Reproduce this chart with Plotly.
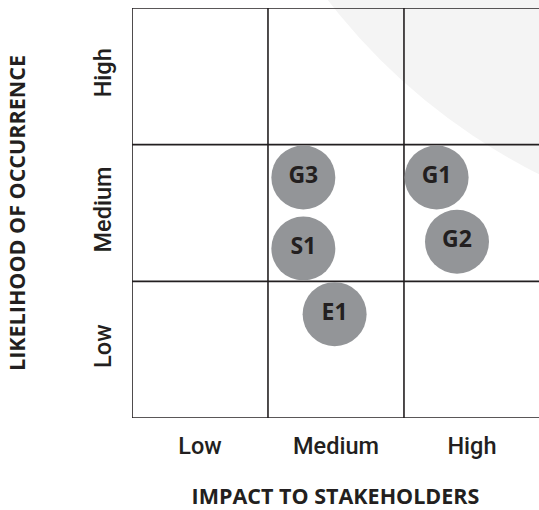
import plotly.graph_objects as go

# Data
risk_labels = ["G3", "G1", "S1", "G2", "E1"]
impact = [1.26, 2.24, 1.26, 2.39, 1.49]
likelihood = [1.76, 1.76, 1.24, 1.29, 0.76]
impact_ticks = ["Low", "Medium", "High"]
likelihood_ticks = ["Low", "Medium", "High"]
tick_pos = [0.5, 1.5, 2.5]
grid_pos = [0, 1, 2, 3]

FONT = "Open Sans"
TICKFONT = "Roboto"
DARK = "#231f20"

fig = go.Figure()
fig.add_trace(go.Scatter(
    x=impact, y=likelihood, mode="markers+text",
    text=risk_labels, textposition="middle center",
    marker=dict(size=64, color="#939598", line=dict(width=0)),
    textfont=dict(family=FONT, size=23, color=DARK, weight=700),
    hoverinfo="skip", cliponaxis=False,
))

shapes = []
# decorative background arc
shapes.append(dict(type="circle", xref="paper", yref="paper",
                   x0=0.1695, x1=3.177, y0=0.4366, y1=3.422,
                   fillcolor="#f4f4f4", line=dict(width=0), layer="below"))
for g in grid_pos:
    shapes.append(dict(type="line", xref="x", yref="y", x0=g, x1=g, y0=0, y1=3,
                       line=dict(color=DARK, width=1.6), layer="below"))
    shapes.append(dict(type="line", xref="x", yref="y", x0=0, x1=3, y0=g, y1=g,
                       line=dict(color=DARK, width=1.6), layer="below"))

fig.update_layout(
    width=539, height=510,
    margin=dict(l=132, r=0, t=8, b=92),
    paper_bgcolor="white", plot_bgcolor="rgba(0,0,0,0)",
    showlegend=False, shapes=shapes,
    font=dict(family=FONT, color=DARK),
)
fig.update_xaxes(
    range=[0, 2.993], showgrid=False, zeroline=False, showline=False,
    tickvals=tick_pos, ticktext=impact_ticks,
    ticks="outside", ticklen=7, tickcolor="rgba(0,0,0,0)",
    tickfont=dict(family=TICKFONT, size=23.5, color=DARK, weight=500),
    title=dict(text="IMPACT TO STAKEHOLDERS", standoff=31,
               font=dict(family=FONT, size=21.5, color=DARK, weight=700)),
    fixedrange=True,
)
fig.update_yaxes(
    range=[0, 3], showgrid=False, zeroline=False, showline=False,
    tickvals=tick_pos, ticktext=likelihood_ticks, tickangle=-90,
    ticks="outside", ticklen=11, tickcolor="rgba(0,0,0,0)",
    tickfont=dict(family=TICKFONT, size=23.5, color=DARK, weight=500),
    title=dict(text="LIKELIHOOD OF OCCURRENCE", standoff=57,
               font=dict(family=FONT, size=21.5, color=DARK, weight=700)),
    fixedrange=True,
)

fig.write_html("out.html")
